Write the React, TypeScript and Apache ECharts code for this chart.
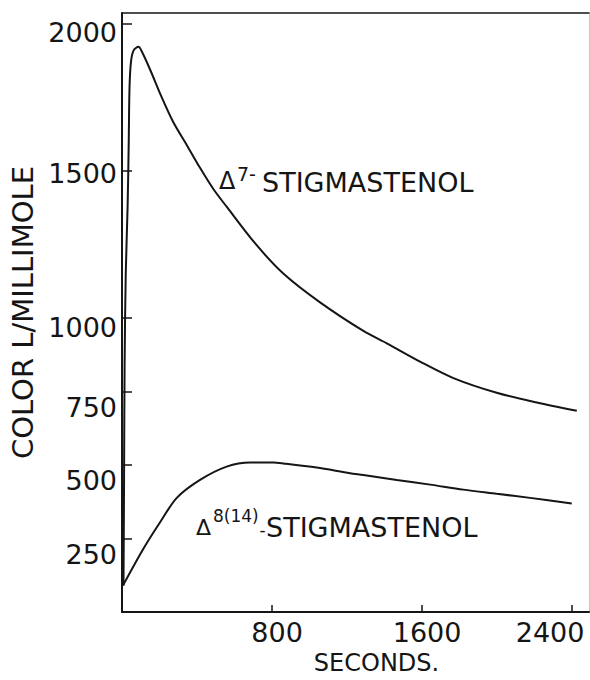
import React, { useEffect, useRef } from "react";
import * as echarts from "echarts";

// Tick labels
const xTickValues = [800, 1600, 2400];
const yTickValues = [250, 500, 750, 1000, 1500, 2000];

// Δ7-stigmastenol (seconds, colour L / millimole)
const delta7Seconds = [8, 11, 14, 20, 30, 36, 40, 48, 62, 88, 105, 149, 211, 273, 345, 416, 487, 558, 709, 860, 1056, 1287, 1412, 1589, 1767, 1998, 2212, 2425];
const delta7Values = [90, 450, 850, 1150, 1380, 1600, 1780, 1870, 1908, 1920, 1905, 1844, 1750, 1665, 1587, 1509, 1437, 1377, 1253, 1150, 1052, 955, 913, 851, 795, 745, 712, 684];

// Δ8(14)-stigmastenol
const delta814Seconds = [5, 114, 203, 292, 416, 558, 683, 807, 860, 1038, 1216, 1287, 1465, 1643, 1820, 1998, 2176, 2398];
const delta814Values = [90, 215, 305, 388, 449, 494, 508, 508, 505, 491, 472, 466, 449, 433, 416, 402, 388, 369];

const FONT = "DejaVu Sans";
const INK = "#151515";

function pairs(xs: number[], ys: number[]) {
  return xs.map((x, i) => [x, ys[i]]);
}

export default function App() {
  const ref = useRef<HTMLDivElement>(null);
  useEffect(() => {
    if (!ref.current) return;
    const chart = echarts.init(ref.current, null, { renderer: "svg" });
    const baseText = { fontFamily: FONT, color: INK, fontSize: 27, fontWeight: 400 };
    const shifted = (d: number) => ({ ...baseText, lineHeight: 27 + 2 * d, verticalAlign: "bottom" });
    const option: any = {
      animation: false,
      backgroundColor: "#ffffff",
      grid: { left: 121, right: 1, top: 13, bottom: 59 },
      xAxis: [
        {
          type: "value",
          min: 0,
          max: 2490,
          axisLine: { show: true, onZero: false, lineStyle: { color: INK, width: 2 } },
          axisTick: { show: true, inside: true, length: 7, customValues: xTickValues, lineStyle: { color: INK, width: 1.5 } },
          axisLabel: {
            customValues: xTickValues,
            margin: 7,
            ...baseText,
            formatter: (v: number) => (v === 2400 ? `{last|${v}}` : `{n|${v}}`),
            rich: {
              n: { ...baseText, padding: [0, 0, 0, 10] },
              last: { ...baseText, padding: [0, 44, 0, 0] },
            },
          },
          splitLine: { show: false },
          name: "SECONDS.",
          nameLocation: "middle",
          nameGap: 33,
          nameTextStyle: { ...baseText, fontSize: 24, padding: [0, 0, 0, 42] },
        },
        {
          type: "value",
          position: "top",
          min: 0,
          max: 2490,
          axisLine: { show: true, onZero: false, lineStyle: { color: INK, width: 1.5 } },
          axisTick: { show: false },
          axisLabel: { show: false },
          splitLine: { show: false },
        },
      ],
      yAxis: [
        {
          type: "value",
          min: 0,
          max: 2035,
          axisLine: { show: true, onZero: false, lineStyle: { color: INK, width: 2 } },
          axisTick: { show: true, inside: true, length: 10, customValues: yTickValues, lineStyle: { color: INK, width: 1.5 } },
          axisLabel: {
            customValues: yTickValues,
            margin: 5,
            ...baseText,
            formatter: (v: number) => `{y${v}|${v}}`,
            rich: {
              y250: shifted(16),
              y500: shifted(16),
              y750: shifted(16),
              y1000: shifted(10),
              y1500: shifted(3),
              y2000: shifted(9),
            },
          },
          splitLine: { show: false },
          name: "COLOR L/MILLIMOLE",
          nameLocation: "middle",
          nameGap: 85,
          nameTextStyle: { ...baseText, fontSize: 29 },
        },
        {
          type: "value",
          position: "right",
          min: 0,
          max: 2035,
          axisLine: { show: true, onZero: false, lineStyle: { color: "#c8c8c8", width: 1 } },
          axisTick: { show: false },
          axisLabel: { show: false },
          splitLine: { show: false },
        },
      ],
      series: [
        {
          name: "Δ7-STIGMASTENOL",
          type: "line",
          data: pairs(delta7Seconds, delta7Values),
          showSymbol: false,
          smooth: 0.3,
          lineStyle: { color: INK, width: 2 },
        },
        {
          name: "Δ8(14)-STIGMASTENOL",
          type: "line",
          data: pairs(delta814Seconds, delta814Values),
          showSymbol: false,
          smooth: 0.3,
          lineStyle: { color: INK, width: 2 },
        },
      ],
      graphic: [
        { type: "text", x: 219, y: 181, style: { text: "Δ", font: `400 24px "${FONT}"`, fill: INK, verticalAlign: "middle" } },
        { type: "text", x: 237, y: 174, style: { text: "7-", font: `400 19px "${FONT}"`, fill: INK, verticalAlign: "middle" } },
        { type: "text", x: 262, y: 182, style: { text: "STIGMASTENOL", font: `400 27px "${FONT}"`, fill: INK, verticalAlign: "middle" } },
        { type: "text", x: 196, y: 527, style: { text: "Δ", font: `400 22px "${FONT}"`, fill: INK, verticalAlign: "middle" } },
        { type: "text", x: 213, y: 516, style: { text: "8(14)", font: `400 17px "${FONT}"`, fill: INK, verticalAlign: "middle" } },
        { type: "text", x: 259.5, y: 530, style: { text: "-", font: `400 17px "${FONT}"`, fill: INK, verticalAlign: "middle" } },
        { type: "text", x: 266, y: 527, style: { text: "STIGMASTENOL", font: `400 27px "${FONT}"`, fill: INK, verticalAlign: "middle" } },
      ],
    };
    chart.setOption(option);
    return () => chart.dispose();
  }, []);
  return (
    <div
      ref={ref}
      style={{ position: "fixed", left: 0, top: 0, width: 590, height: 680, background: "#fff" }}
    />
  );
}
